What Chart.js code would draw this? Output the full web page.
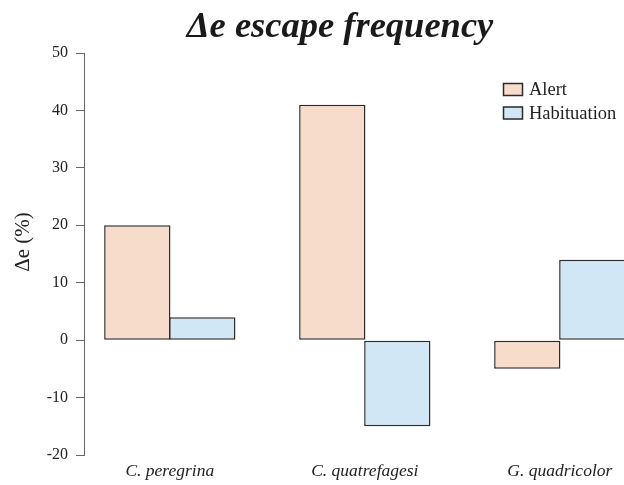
<!DOCTYPE html>
<html>
<head>
<meta charset="utf-8">
<script src="https://cdn.jsdelivr.net/npm/chart.js@4/dist/chart.umd.min.js"></script>
<style>
  html, body { margin: 0; padding: 0; background: #fff; overflow: hidden; }
  #wrap { position: relative; width: 660px; height: 485px; }
</style>
</head>
<body>
<div id="wrap"><canvas id="c"></canvas></div>
<script>
// Change in escape frequency (%) per species and condition
const species = ['C. peregrina', 'C. quatrefagesi', 'G. quadricolor'];
const alertValues = [20, 41, -5];
const habituationValues = [4, -15, 14];
const yTicks = [-20, -10, 0, 10, 20, 30, 40, 50];

const seriesNames = ['Alert', 'Habituation'];
const seriesFill = ['#f7dccb', '#d1e7f6'];

// Each group of two bars sits on a 3-unit slot (one unit of space, two bars)
const groupPos = species.map((_, i) => 2 + 3 * i);

const SERIF = '"Liberation Serif", "DejaVu Serif", serif';
const TEXT = '#222';

const textPlugin = {
  id: 'textPlugin',
  afterDraw(chart) {
    const ctx = chart.ctx;
    ctx.save();
    // main title
    ctx.fillStyle = '#1a1a1a';
    ctx.font = 'italic bold 36.5px ' + SERIF;
    ctx.textAlign = 'center';
    ctx.textBaseline = 'alphabetic';
    ctx.fillText('\u0394e escape frequency', 340, 37);

    // y axis title
    ctx.save();
    ctx.translate(23, 242);
    ctx.rotate(-Math.PI / 2);
    ctx.font = '21px ' + SERIF;
    ctx.fillStyle = TEXT;
    ctx.textAlign = 'center';
    ctx.textBaseline = 'middle';
    ctx.fillText('\u0394e (%)', 0, 0);
    ctx.restore();

    // legend
    ctx.font = '18.5px ' + SERIF;
    ctx.textAlign = 'left';
    ctx.textBaseline = 'middle';
    chart.data.datasets.forEach((ds, i) => {
      const x = 503, y = 83 + i * 23.5;
      ctx.fillStyle = ds.backgroundColor;
      ctx.fillRect(x, y, 20, 13);
      ctx.strokeStyle = '#2b2b2b';
      ctx.lineWidth = 1.5;
      ctx.strokeRect(x + 0.5, y + 0.5, 19, 12);
      ctx.fillStyle = TEXT;
      ctx.fillText(ds.label, x + 26, y + 7.5);
    });
    ctx.restore();
  }
};

new Chart(document.getElementById('c'), {
  type: 'bar',
  data: {
    datasets: [
      {
        label: seriesNames[0],
        data: alertValues.map((v, i) => ({ x: groupPos[i], y: v })),
        backgroundColor: seriesFill[0]
      },
      {
        label: seriesNames[1],
        data: habituationValues.map((v, i) => ({ x: groupPos[i], y: v })),
        backgroundColor: seriesFill[1]
      }
    ]
  },
  options: {
    responsive: true,
    maintainAspectRatio: false,
    animation: false,
    events: [],
    layout: { padding: { left: 0, top: 53, right: 14.4, bottom: 0 } },
    datasets: {
      bar: {
        borderColor: '#2b2b2b',
        borderWidth: 1.5,
        borderSkipped: false,
        categoryPercentage: 2 / 3,
        // slight overlap so neighbouring bars share one outline
        barPercentage: 1.02
      }
    },
    plugins: {
      legend: { display: false },
      title: { display: false },
      tooltip: { enabled: false }
    },
    scales: {
      x: {
        type: 'linear',
        min: 0.68,
        max: 9.32,
        offset: false,
        bounds: 'data',
        afterBuildTicks(scale) { scale.ticks = groupPos.map(v => ({ value: v })); },
        afterFit(scale) { scale.height = 30; },
        grid: { display: false, drawTicks: false, offset: false },
        border: { display: false },
        ticks: {
          autoSkip: false,
          maxRotation: 0,
          padding: 6,
          color: TEXT,
          font: { family: SERIF, size: 17.5, style: 'italic' },
          callback: (v, i) => species[i]
        }
      },
      y: {
        min: -20,
        max: 50,
        afterBuildTicks(scale) { scale.ticks = yTicks.map(v => ({ value: v })); },
        afterFit(scale) { scale.width = 84; },
        grid: {
          drawOnChartArea: false,
          drawTicks: true,
          tickLength: 8,
          color: '#666',
          lineWidth: 1
        },
        border: { display: true, color: '#666', width: 1 },
        ticks: {
          padding: 8,
          color: TEXT,
          font: { family: SERIF, size: 16 }
        }
      }
    }
  },
  plugins: [textPlugin]
});
</script>
</body>
</html>
